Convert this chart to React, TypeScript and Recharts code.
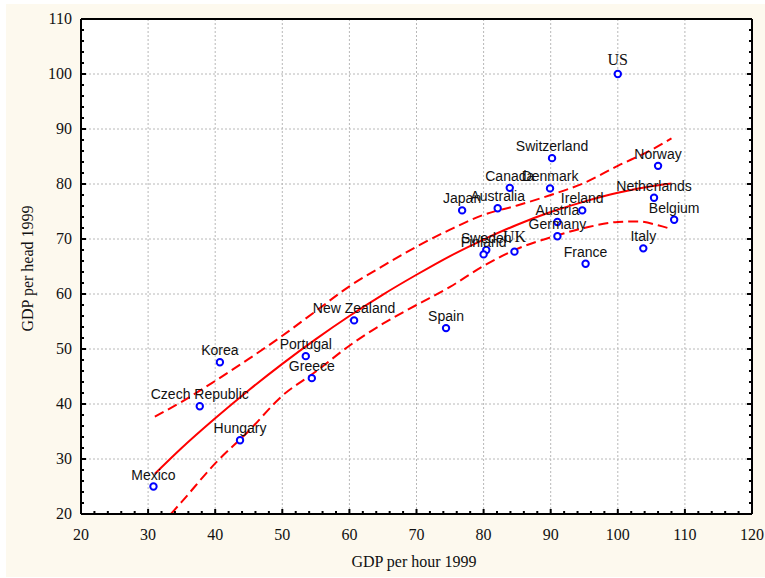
import React from "react";
import {
  ComposedChart,
  Scatter,
  Line,
  XAxis,
  YAxis,
  CartesianGrid,
} from "recharts";

// OECD countries, productivity vs income
const countries = [
  "Mexico", "Czech Republic", "Hungary", "Korea", "Portugal", "Greece",
  "New Zealand", "Spain", "Japan", "Australia", "Canada", "Denmark",
  "Switzerland", "US", "Norway", "Netherlands", "Belgium", "Ireland",
  "Austria", "Germany", "Italy", "France", "UK", "Sweden", "Finland",
];
const gdpPerHour = [
  30.8, 37.7, 43.7, 40.7, 53.5, 54.4, 60.7, 74.4, 76.8, 82.1, 83.9, 89.9,
  90.2, 100, 106.0, 105.4, 108.4, 94.7, 91.0, 91.0, 103.8, 95.2, 84.6, 80.4, 80.0,
];
const gdpPerHead = [
  25.0, 39.6, 33.4, 47.6, 48.7, 44.7, 55.2, 53.8, 75.2, 75.6, 79.3, 79.2,
  84.7, 100, 83.3, 77.5, 73.5, 75.2, 73.1, 70.5, 68.3, 65.5, 67.7, 68.0, 67.2,
];

// fitted curve and its confidence band
const fitX = [31, 35, 40, 45, 50, 55, 60, 65, 70, 75, 80, 85, 90, 95, 100, 105, 108];
const fitY = [27.3, 32.0, 37.4, 42.5, 47.3, 51.8, 56.0, 59.9, 63.5, 66.9, 69.9, 72.6, 74.9, 76.8, 78.4, 79.6, 80.1];
const upperX = [31, 35, 40, 45, 50, 55, 60, 65, 70, 75, 80, 85, 90, 95, 100, 105, 108];
const upperY = [37.7, 40.4, 44.2, 48.2, 52.4, 56.9, 61.4, 65.1, 68.6, 71.7, 74.4, 76.1, 78.0, 80.2, 83.3, 86.2, 88.3];
const lowerX = [33.4, 35, 40, 45, 50, 55, 60, 65, 70, 75, 80, 85, 90, 95, 100, 103, 106, 108];
const lowerY = [20.0, 22.2, 29.2, 35.1, 41.5, 45.9, 50.6, 54.6, 58.0, 61.3, 65.1, 68.2, 70.3, 72.0, 73.1, 73.2, 72.5, 71.8];

const xTicks = [
  20, 22, 24, 26, 28, 30, 32, 34, 36, 38, 40, 42, 44, 46, 48, 50, 52, 54, 56, 58,
  60, 62, 64, 66, 68, 70, 72, 74, 76, 78, 80, 82, 84, 86, 88, 90, 92, 94, 96, 98,
  100, 102, 104, 106, 108, 110, 112, 114, 116, 118, 120,
];
const yTicks = [
  20, 22, 24, 26, 28, 30, 32, 34, 36, 38, 40, 42, 44, 46, 48, 50, 52, 54, 56, 58,
  60, 62, 64, 66, 68, 70, 72, 74, 76, 78, 80, 82, 84, 86, 88, 90, 92, 94, 96, 98,
  100, 102, 104, 106, 108, 110,
];
const xMajor = [20, 30, 40, 50, 60, 70, 80, 90, 100, 110, 120];
const yMajor = [20, 30, 40, 50, 60, 70, 80, 90, 100, 110];

const points = countries.map((name, i) => ({ name, x: gdpPerHour[i], y: gdpPerHead[i] }));
const fit = fitX.map((x, i) => ({ x, y: fitY[i] }));
const upper = upperX.map((x, i) => ({ x, y: upperY[i] }));
const lower = lowerX.map((x, i) => ({ x, y: lowerY[i] }));

const SERIF = "'Liberation Serif', 'Times New Roman', serif";
const SANS = "'Liberation Sans', Arial, sans-serif";

function FrameTick(props: any) {
  const { x, y, payload, side, labels } = props;
  const v = payload.value;
  const major = v % 10 === 0;
  const len = major ? 5 : 3;
  let line;
  if (side === "bottom") line = <line x1={x} y1={y} x2={x} y2={y - len} />;
  else if (side === "top") line = <line x1={x} y1={y} x2={x} y2={y + len} />;
  else if (side === "left") line = <line x1={x} y1={y} x2={x + len} y2={y} />;
  else line = <line x1={x} y1={y} x2={x - len} y2={y} />;

  let label = null;
  if (labels && major) {
    if (side === "bottom") {
      label = (
        <text x={x} y={y + 25.5} textAnchor="middle" fontFamily={SERIF} fontSize={16} fill="#111" stroke="none">
          {v}
        </text>
      );
    } else {
      label = (
        <text x={x - 9} y={y + 5} textAnchor="end" fontFamily={SERIF} fontSize={16} fill="#111" stroke="none">
          {v}
        </text>
      );
    }
  }
  return (
    <g stroke="#000" strokeWidth={2}>
      {line}
      {label}
    </g>
  );
}

function CountryDot(props: any) {
  const { cx, cy, payload } = props;
  const serif = payload.name === "US" || payload.name === "UK";
  return (
    <g>
      <circle cx={cx} cy={cy} r={3.2} fill="#fff" stroke="#0000ff" strokeWidth={2} />
      <text
        x={cx}
        y={cy - (serif ? 9.5 : 7)}
        textAnchor="middle"
        fontFamily={serif ? SERIF : SANS}
        fontSize={serif ? 16 : 14}
        fill="#111"
      >
        {payload.name}
      </text>
    </g>
  );
}

function XTitle(props: any) {
  const { viewBox } = props;
  const cx = viewBox.x + viewBox.width / 2 - 2.5;
  return (
    <text x={cx} y={viewBox.y + 53} textAnchor="middle" fontFamily={SERIF} fontSize={16} fill="#111">
      GDP per hour 1999
    </text>
  );
}

function YTitle(props: any) {
  const { viewBox } = props;
  const cx = viewBox.x + 27;
  const cy = viewBox.y + viewBox.height / 2 + 2;
  return (
    <text
      x={cx}
      y={cy}
      transform={`rotate(-90 ${cx} ${cy})`}
      textAnchor="middle"
      dominantBaseline="central"
      fontFamily={SERIF}
      fontSize={16}
      fill="#111"
    >
      GDP per head 1999
    </text>
  );
}

export default function App() {
  const axisLine = { stroke: "#000", strokeWidth: 2 };
  return (
    <div style={{ position: "absolute", left: 0, top: 0, width: 765, height: 578, background: "#fff" }}>
      <div style={{ position: "absolute", left: 6, top: 4, width: 759, height: 573, background: "#fdf9ee" }} />
      <div style={{ position: "absolute", left: 0, top: 0 }}>
        <ComposedChart width={765} height={578} margin={{ top: 18, right: 12, bottom: 0, left: 0 }}>
          <CartesianGrid
            fill="#fff"
            fillOpacity={1}
            stroke="#b8b8b8"
            strokeDasharray="2 2"
            verticalValues={xMajor}
            horizontalValues={yMajor}
          />
          <XAxis
            dataKey="x"
            type="number"
            domain={[20, 120]}
            ticks={xTicks}
            interval={0}
            allowDataOverflow
            height={64}
            tickSize={0}
            tickMargin={0}
            tickLine={false}
            axisLine={axisLine}
            tick={<FrameTick side="bottom" labels />}
            label={<XTitle />}
          />
          <XAxis
            xAxisId="top"
            orientation="top"
            type="number"
            domain={[20, 120]}
            ticks={xTicks}
            interval={0}
            allowDataOverflow
            height={1}
            tickSize={0}
            tickMargin={0}
            tickLine={false}
            axisLine={axisLine}
            tick={<FrameTick side="top" />}
          />
          <YAxis
            dataKey="y"
            type="number"
            domain={[20, 110]}
            ticks={yTicks}
            interval={0}
            allowDataOverflow
            width={81}
            tickSize={0}
            tickMargin={0}
            tickLine={false}
            axisLine={axisLine}
            tick={<FrameTick side="left" labels />}
            label={<YTitle />}
          />
          <YAxis
            yAxisId="right"
            orientation="right"
            type="number"
            domain={[20, 110]}
            ticks={yTicks}
            interval={0}
            allowDataOverflow
            width={1}
            tickSize={0}
            tickMargin={0}
            tickLine={false}
            axisLine={axisLine}
            tick={<FrameTick side="right" />}
          />
          <Line data={upper} dataKey="y" type="monotone" dot={false} stroke="#ff0000" strokeWidth={2} strokeDasharray="10 5" isAnimationActive={false} />
          <Line data={lower} dataKey="y" type="monotone" dot={false} stroke="#ff0000" strokeWidth={2} strokeDasharray="10 5" isAnimationActive={false} />
          <Line data={fit} dataKey="y" type="monotone" dot={false} stroke="#ff0000" strokeWidth={2} isAnimationActive={false} />
          <Scatter data={points} dataKey="y" shape={<CountryDot />} isAnimationActive={false} />
        </ComposedChart>
      </div>
    </div>
  );
}
